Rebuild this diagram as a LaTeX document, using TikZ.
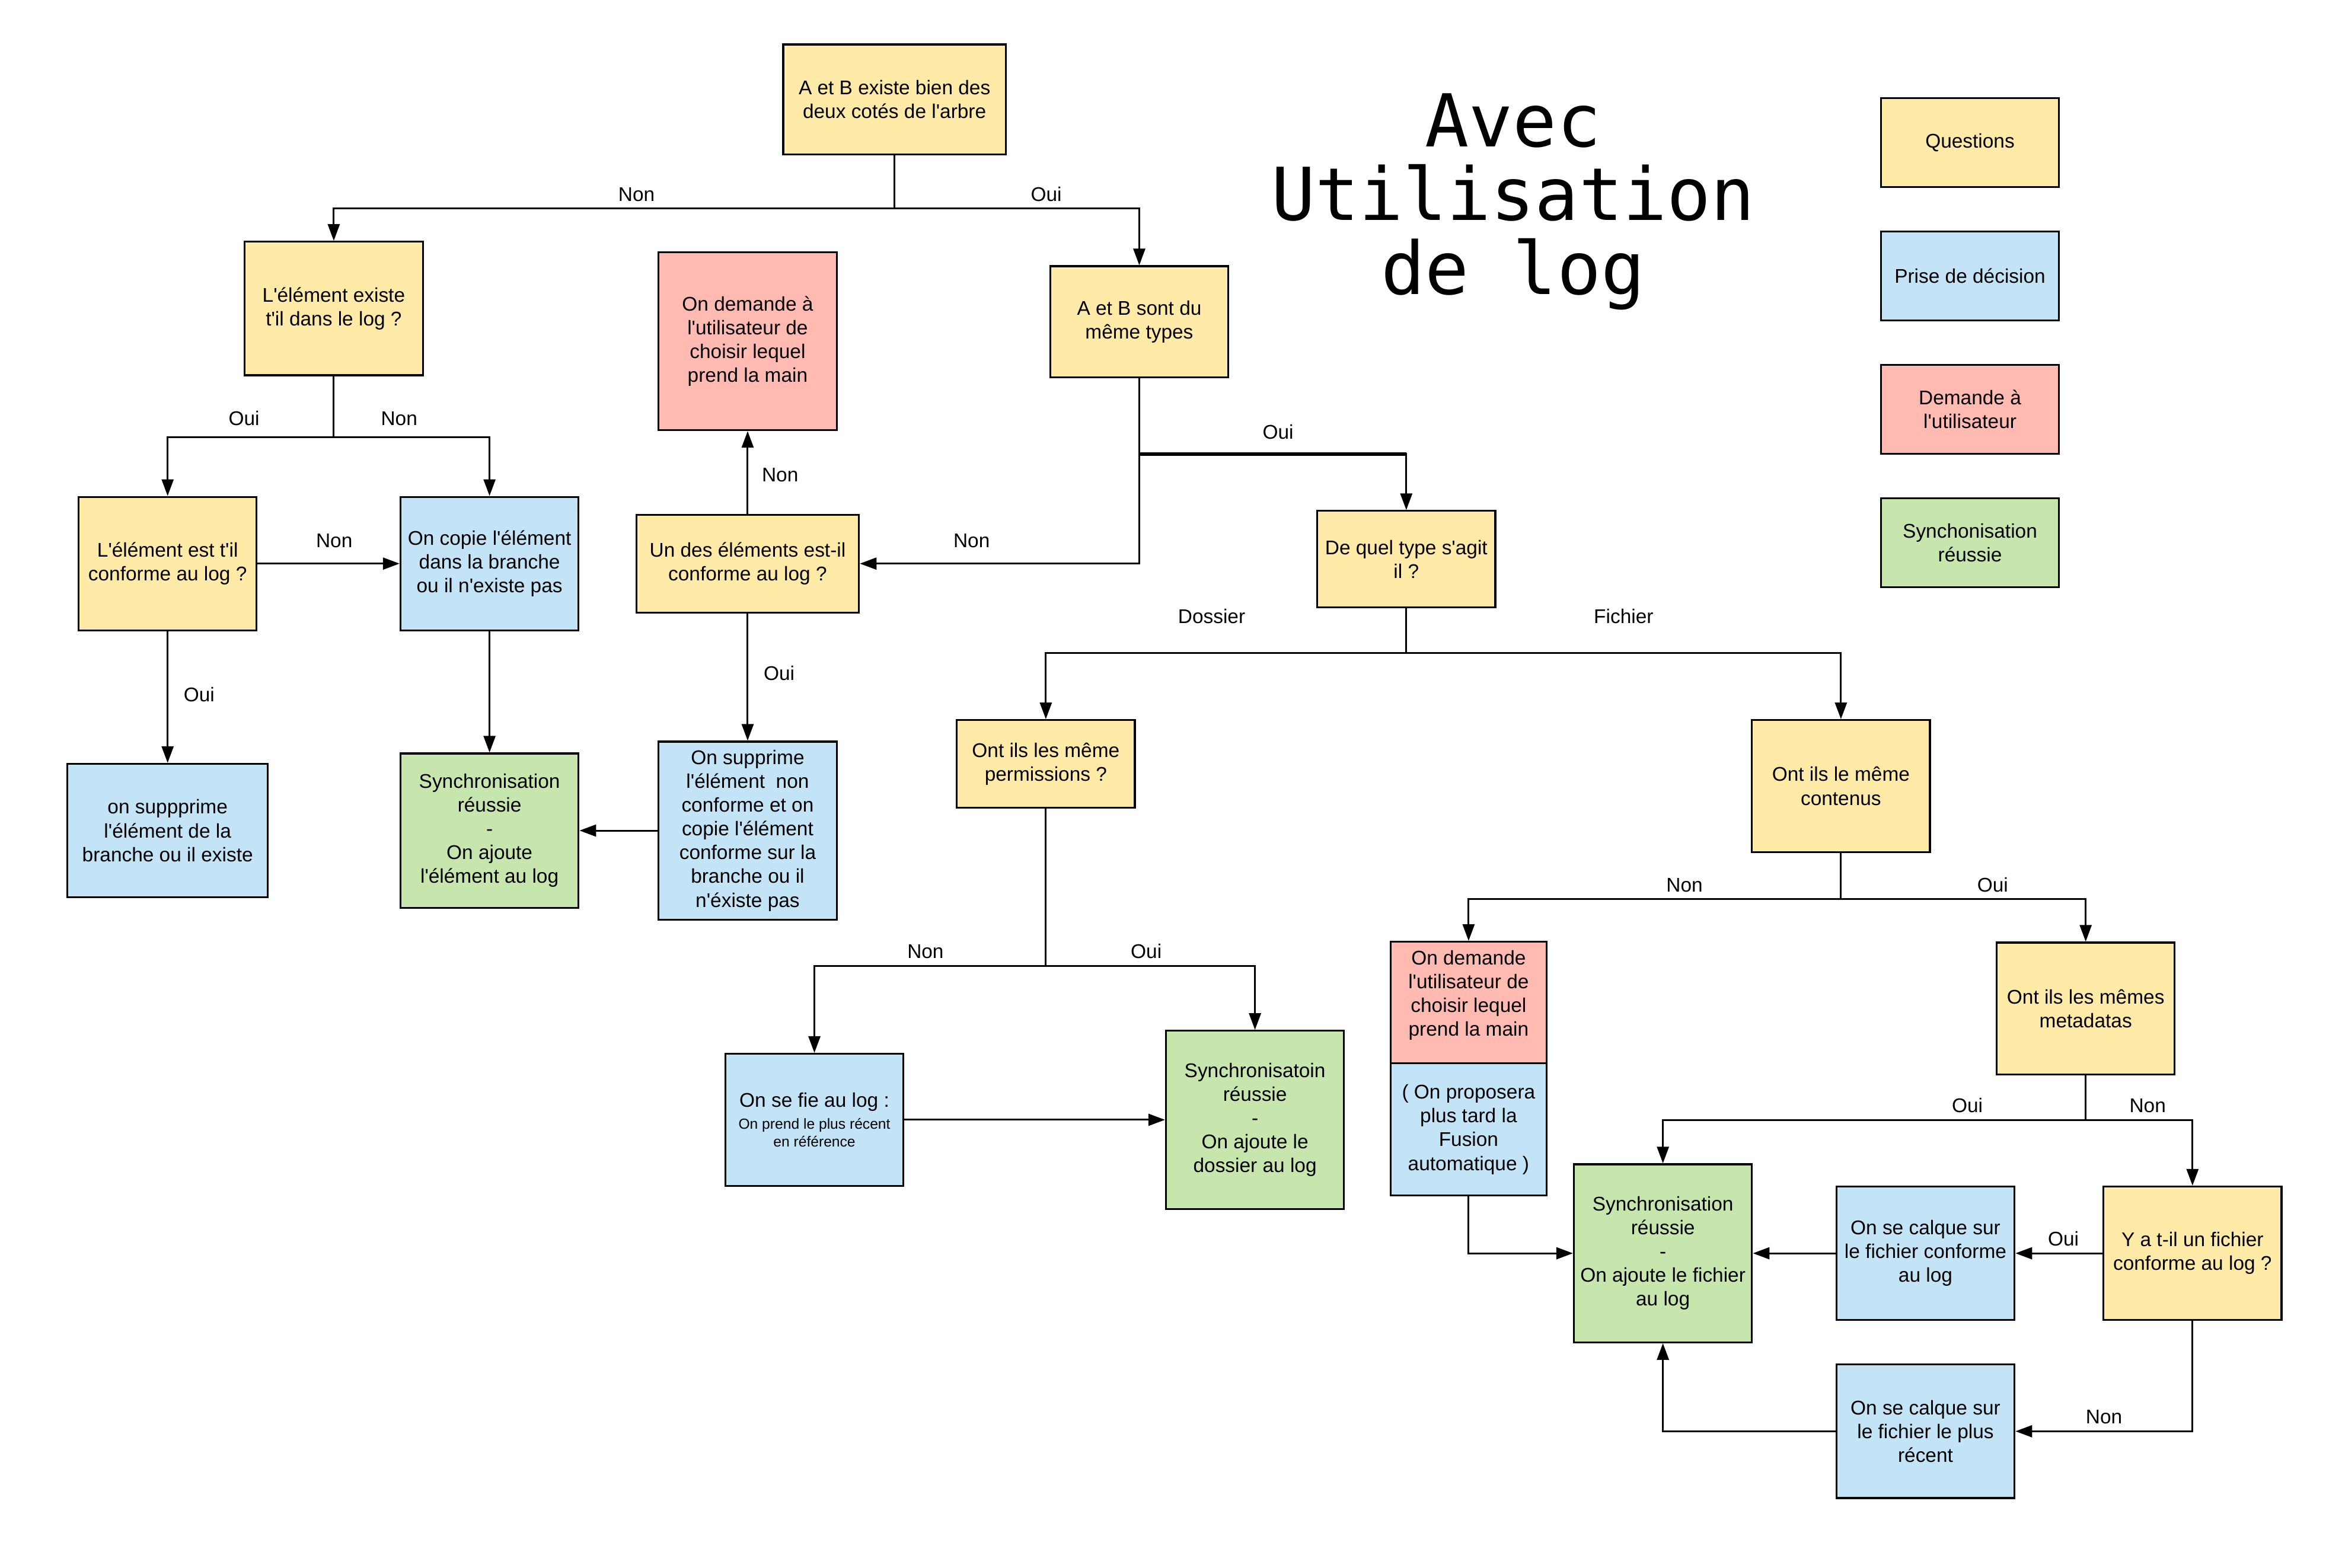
\documentclass[tikz,border=0pt]{standalone}
\usepackage{fontspec}
\setmainfont{Liberation Sans}[Ligatures=TeXOff]
\newfontfamily\titrefont{DejaVu Sans Mono}
\usetikzlibrary{arrows.meta}
\definecolor{jaune}{HTML}{FFEAA8}
\definecolor{bleu}{HTML}{C2E4F6}
\definecolor{rouge}{HTML}{FFBBB1}
\definecolor{vert}{HTML}{C7E6AD}
\newcommand{\petit}{\fontsize{7}{8.5}\selectfont}

\begin{document}
\begin{tikzpicture}[x=0.025cm, y=-0.025cm,
	boite/.style={draw, line width=0.9pt, align=center, inner sep=1pt,
		minimum width=3cm, minimum height=2.25cm, font=\fontsize{9.5}{11.4}\selectfont},
	question/.style={boite, fill=jaune},
	decision/.style={boite, fill=bleu},
	demande/.style={boite, fill=rouge},
	reussi/.style={boite, fill=vert},
	fleche/.style={-{Triangle[length=2.8mm, width=2mm]}, line width=0.85pt},
	lab/.style={font=\fontsize{9.5}{11.4}\selectfont, inner sep=3pt}]
	\useasboundingbox (0,0) rectangle (1568,1057);

	\node[question, minimum width=3.75cm, minimum height=1.85cm] (debut) at (603,67) {A et B existe bien des\\deux cotés de l'arbre};
	\node[question] (existe) at (225,208) {L'élément existe\\t'il dans le log ?};
	\node[demande, minimum height=3cm] (demandeA) at (504,230) {On demande à\\l'utilisateur de\\choisir lequel\\prend la main};
	\node[question, minimum height=1.875cm] (memetype) at (768,217) {A et B sont du\\même types};
	\node[question] (conforme) at (113,380) {L'élément est t'il\\conforme au log ?};
	\node[decision] (copie) at (330,380) {On copie l'élément\\dans la branche\\ou il n'existe pas};
	\node[question, minimum width=3.75cm, minimum height=1.65cm] (undes) at (504,380) {Un des éléments est-il\\conforme au log ?};
	\node[question, minimum height=1.625cm] (quel) at (948,377) {De quel type s'agit\\il ?};
	\node[decision, minimum width=3.375cm] (supprime) at (113,560) {on suppprime\\l'élément de la\\branche ou il existe};
	\node[reussi, minimum height=2.6cm] (synchroA) at (330,560) {Synchronisation\\réussie\\-\\On ajoute\\l'élément au log};
	\node[decision, minimum height=3cm] (remplace) at (504,560) {On supprime\\l'élément~~non\\conforme et on\\copie l'élément\\conforme sur la\\branche ou il\\n'éxiste pas};
	\node[question, minimum height=1.475cm] (perm) at (705,515) {Ont ils les même\\permissions ?};
	\node[question, minimum height=2.225cm] (contenu) at (1241,530) {Ont ils le même\\contenus};
	\node[decision, minimum height=2.225cm] (fie) at (549,755) {On se fie au log :\\[-1pt]\petit On prend le plus récent\\[-3pt]\petit en référence};
	\node[reussi, minimum height=3cm] (synchroB) at (846,755) {Synchronisatoin\\réussie\\-\\On ajoute le\\dossier au log};
	\node[demande, minimum width=2.625cm, minimum height=2.05cm, text depth=0.32cm] (demandeB) at (990,676) {On demande\\l'utilisateur de\\choisir lequel\\prend la main};
	\node[decision, minimum width=2.625cm, minimum height=2.225cm] (fusion) at (990,761.5) {( On proposera\\plus tard la\\Fusion\\automatique )};
	\node[question, minimum height=2.225cm] (metas) at (1406,680) {Ont ils les mêmes\\metadatas};
	\node[reussi, minimum height=3cm] (synchroC) at (1121,845) {Synchronisation\\réussie\\-\\On ajoute le fichier\\au log};
	\node[decision] (calqueA) at (1298,845) {On se calque sur\\le fichier conforme\\au log};
	\node[question] (fichierlog) at (1478,845) {Y a t-il un fichier\\conforme au log ?};
	\node[decision] (calqueB) at (1298,965) {On se calque sur\\le fichier le plus\\récent};

	% legende
	\foreach \yy/\coul/\nom/\txt in {96/jaune/legQ/Questions, 186/bleu/legP/Prise de décision,
		276/rouge/legD/{Demande à\\l'utilisateur}, 366/vert/legS/{Synchonisation\\réussie}}
	{
		\node[boite, fill=\coul, minimum height=1.5cm] (\nom) at (1328,\yy) {\txt};
	}
	\node[font=\titrefont\fontsize{35}{35.5}\selectfont, align=center, inner sep=0pt] (titre) at (1020,136) {Avec\\Utilisation\\de log};

	\draw[fleche] (debut.south) -- ++(0,36) -| node[lab, above, pos=0.23] {Non} (existe.north);
	\draw[fleche] (debut.south) -- ++(0,36) -| node[lab, above, pos=0.31] {Oui} (memetype.north);
	\draw[fleche] (existe.south) -- ++(0,41) -| node[lab, above, pos=0.27, yshift=0.75mm] {Oui} (conforme.north);
	\draw[fleche] (existe.south) -- ++(0,41) -| node[lab, above, pos=0.21, yshift=0.75mm] {Non} (copie.north);
	\draw[fleche] (conforme) -- node[lab, above, pos=0.54, yshift=1.5mm] {Non} (copie);
	\draw[fleche] (conforme) -- node[lab, right, pos=0.48, xshift=1.5mm] {Oui} (supprime);
	\draw[fleche] (copie) -- (synchroA);
	\draw[fleche] (remplace) -- (synchroA);
	\draw[fleche] (undes) -- node[lab, right, pos=0.47, xshift=1.2mm] {Non} (demandeA);
	\draw[fleche] (undes) -- node[lab, right, pos=0.47, xshift=1.5mm] {Oui} (remplace);
	\draw[fleche] (memetype.south) |- node[lab, above, pos=0.8, yshift=1.5mm] {Non} (undes.east);
	\draw[fleche] (memetype.south) -- ++(0,51) coordinate (coude) -| node[lab, above, pos=0.26, yshift=1.3mm] {Oui} (quel.north);
	\draw[line width=1.9pt] (coude) -- (coude -| quel.north);
	\draw[fleche] (quel.south) -- ++(0,30) -| node[lab, above, pos=0.27, yshift=3.75mm] {Dossier} (perm.north);
	\draw[fleche] (quel.south) -- ++(0,30) -| node[lab, above, pos=0.25, yshift=3.75mm] {Fichier} (contenu.north);
	\draw[fleche] (perm.south) -- ++(0,106) -| node[lab, above, pos=0.26] {Non} (fie.north);
	\draw[fleche] (perm.south) -- ++(0,106) -| node[lab, above, pos=0.24] {Oui} (synchroB.north);
	\draw[fleche] (fie) -- (synchroB);
	\draw[fleche] (contenu.south) -- ++(0,31) -| node[lab, above, pos=0.21] {Non} (demandeB.north);
	\draw[fleche] (contenu.south) -- ++(0,31) -| node[lab, above, pos=0.31] {Oui} (metas.north);
	\draw[fleche] (fusion.south) |- (synchroC.west);
	\draw[fleche] (metas.south) -- ++(0,30) -| node[lab, above, pos=0.14] {Oui} (synchroC.north);
	\draw[fleche] (metas.south) -- ++(0,30) -| node[lab, above, pos=0.29] {Non} (fichierlog.north);
	\draw[fleche] (fichierlog) -- node[lab, above, pos=0.45] {Oui} (calqueA);
	\draw[fleche] (calqueA) -- (synchroC);
	\draw[fleche] (fichierlog.south) |- node[lab, above, pos=0.75] {Non} (calqueB.east);
	\draw[fleche] (calqueB.west) -| (synchroC.south);
\end{tikzpicture}
\end{document}
